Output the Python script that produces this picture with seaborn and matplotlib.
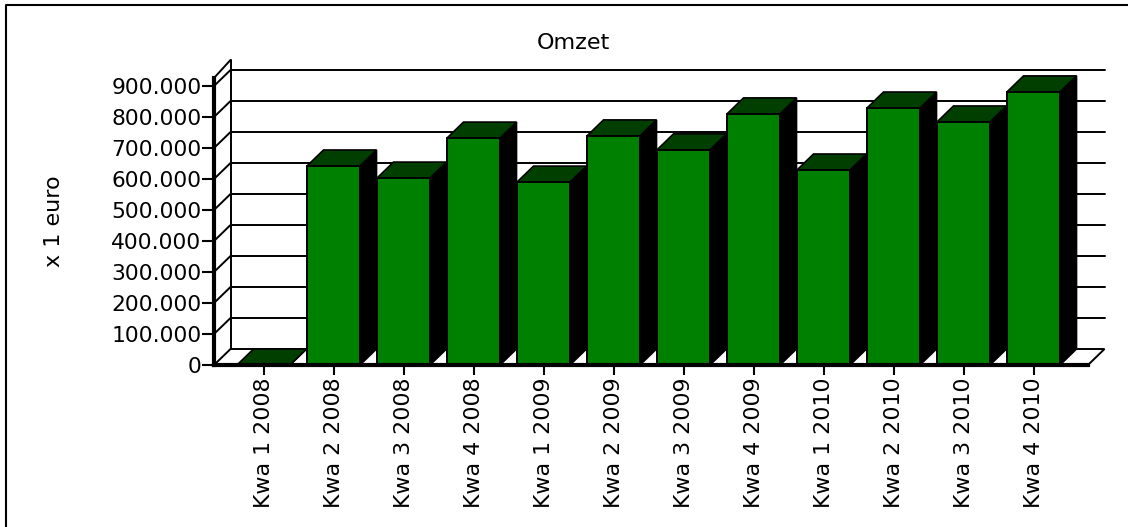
import seaborn as sns
import pandas as pd
import matplotlib.pyplot as plt
from matplotlib.lines import Line2D
from matplotlib.patches import Polygon

quarters = ['Kwa 1 2008', 'Kwa 2 2008', 'Kwa 3 2008', 'Kwa 4 2008',
            'Kwa 1 2009', 'Kwa 2 2009', 'Kwa 3 2009', 'Kwa 4 2009',
            'Kwa 1 2010', 'Kwa 2 2010', 'Kwa 3 2010', 'Kwa 4 2010']
omzet = [0, 642000, 603000, 732000, 590000, 739000,
         694000, 810000, 629000, 829000, 784000, 881000]
y_ticks = [0, 100000, 200000, 300000, 400000, 500000,
           600000, 700000, 800000, 900000]
y_labels = ['0', '100.000', '200.000', '300.000', '400.000', '500.000',
            '600.000', '700.000', '800.000', '900.000']

W, H = 1128, 527
left, right, bottom, top = 214, 1088, 365, 78
px_per_euro = (365 - 86) / 900000
dx = 16.5 / 70          # depth of the fake 3d, in category units
dy = 16 / px_per_euro   # depth in euro

sns.set_style('white', {'axes.edgecolor': 'black', 'text.color': 'black',
                        'axes.labelcolor': 'black', 'xtick.color': 'black',
                        'ytick.color': 'black'})
fig = plt.figure(figsize=(W / 100, H / 100), dpi=100)
ax = fig.add_axes([left / W, 1 - bottom / H, (right - left) / W, (bottom - top) / H])

df = pd.DataFrame({'quarter': quarters, 'omzet': omzet})
sns.barplot(data=df, x='quarter', y='omzet', ax=ax, color='#008000', saturation=1,
            width=53 / 70, edgecolor='black', linewidth=1.4, zorder=5, clip_on=False)

x0 = -(263.5 - left) / 70
x1 = x0 + (right - left) / 70
y1 = (bottom - top) / px_per_euro
ax.set_xlim(x0, x1)
ax.set_ylim(0, y1)

# back wall and floor
ln = dict(color='black', lw=1.4, clip_on=False, zorder=1)
wall_top = y1 + 18 / px_per_euro
for t in y_ticks[1:]:
    ax.plot([x0, x0 + dx], [t, t + dy], **ln)
    ax.plot([x0 + dx, x1 + dx], [t + dy, t + dy], **ln)
ax.plot([x0 + dx, x0 + dx], [dy, wall_top], **ln)
ax.plot([x0, x0 + dx], [y1, wall_top], **ln)
ax.add_patch(Polygon([(x0, 0), (x0 + dx, dy), (x1 + dx, dy), (x1, 0)], closed=True,
                     fc='white', ec='black', lw=1.4, clip_on=False, zorder=2))

# side and top of every bar
for bar in ax.patches[:len(quarters)]:
    a, b = bar.get_x(), bar.get_x() + bar.get_width()
    h = bar.get_height()
    ax.add_patch(Polygon([(b, 0), (b + dx, dy), (b + dx, h + dy), (b, h)], closed=True,
                         fc='black', ec='black', lw=1.2, clip_on=False, zorder=3))
    ax.add_patch(Polygon([(a, h), (a + dx, h + dy), (b + dx, h + dy), (b, h)], closed=True,
                         fc='#003f00', ec='black', lw=1.2, clip_on=False, zorder=4))

sns.despine(ax=ax, top=True, right=True)
ax.spines['left'].set_linewidth(3)
ax.spines['bottom'].set_linewidth(3)
ax.spines['left'].set_zorder(6)
ax.spines['bottom'].set_zorder(6)

ax.set_yticks(y_ticks)
ax.set_yticklabels(y_labels)
ax.tick_params(axis='y', left=True, length=8.5, width=1.5, pad=0.5, labelsize=15.7)
ax.tick_params(axis='x', bottom=True, length=7, width=1.5, pad=2, labelsize=15.9,
               labelrotation=90)
ax.set_xlabel('')
ax.set_ylabel('x 1 euro', fontsize=16)
ax.yaxis.set_label_coords((64 - left) / (right - left), (bottom - 221) / (bottom - top))
ax.set_title('Omzet', fontsize=16, x=(573 - left) / (right - left),
             y=(bottom - 49) / (bottom - top), pad=0)

# border of the page, only top and left
fig.add_artist(Line2D([6 / W, 6 / W, 1], [0, 1 - 5 / H, 1 - 5 / H], color='black', lw=1.5))

plt.savefig('out.png', dpi=100)
